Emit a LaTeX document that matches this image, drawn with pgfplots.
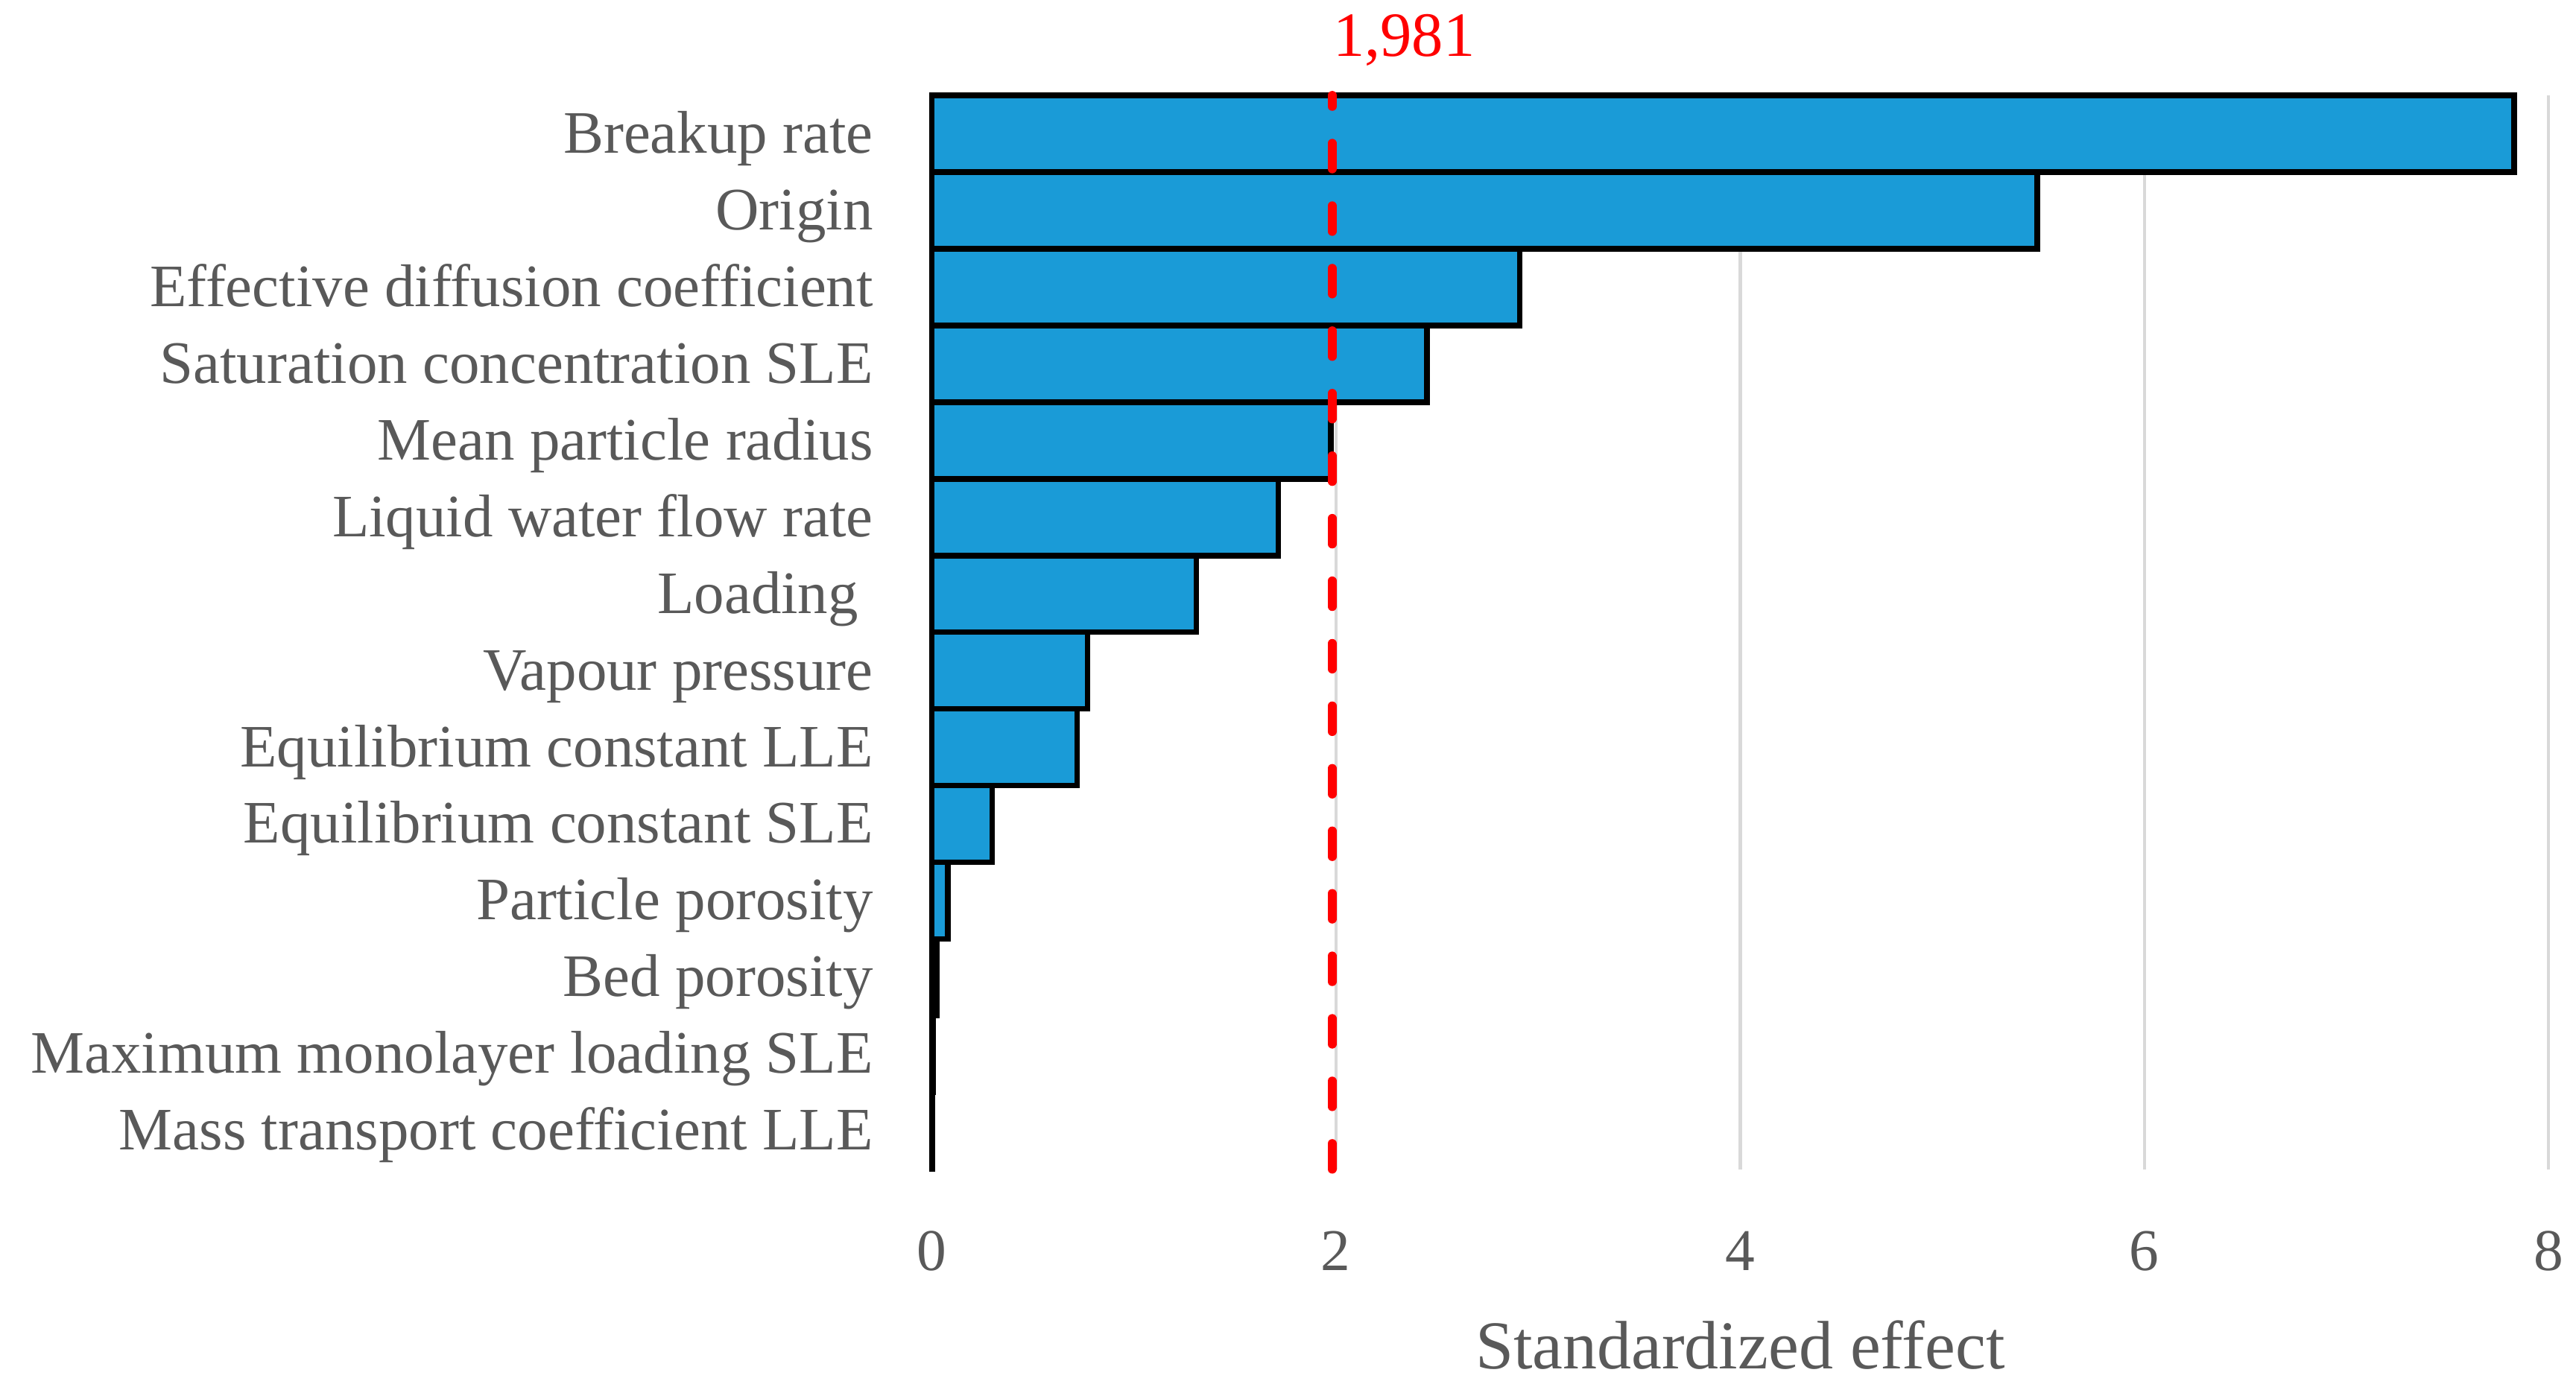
\documentclass[border=0pt]{standalone}
\usepackage{fontspec}
\setmainfont{Liberation Serif}
\usepackage{pgfplots}
\pgfplotsset{compat=1.18}

\definecolor{barblue}{RGB}{26,155,215}
\definecolor{txtgray}{RGB}{89,89,89}
\definecolor{gridgray}{RGB}{217,217,217}

\begin{document}
\begin{tikzpicture}
% fixed page size, same proportions as the reference
\useasboundingbox (-170pt,-40.2pt) rectangle (300pt,213.4pt);
\begin{axis}[
    at={(0,0)}, anchor=south west,
    scale only axis, width=295pt, height=196pt,
    xmin=0, xmax=8, ymin=-0.5, ymax=13.5, y dir=reverse,
    clip=false,
    xtick={0,2,4,6,8},
    ytick={0,1,...,13},
    yticklabels={Breakup rate, Origin, Effective diffusion coefficient,
        Saturation concentration SLE, Mean particle radius,
        Liquid water flow rate, {Loading\kern2.7pt}, Vapour pressure,
        Equilibrium constant LLE, Equilibrium constant SLE,
        Particle porosity, Bed porosity,
        Maximum monolayer loading SLE, Mass transport coefficient LLE},
    xmajorgrids,
    grid style={gridgray, line width=0.6pt},
    axis line style={draw=none},
    tick style={draw=none},
    major tick length=0pt,
    /pgf/number format/assume math mode=true,
    yticklabel style={anchor=base east, inner sep=0pt, xshift=-10.5pt,
        yshift=-3.5pt, font=\fontsize{11}{13}\selectfont, text=txtgray},
    xticklabel style={anchor=base, inner sep=0pt, yshift=-18.5pt,
        font=\fontsize{10.8}{13}\selectfont, text=txtgray},
    xlabel={Standardized effect},
    xlabel style={at={(axis description cs:0.5,0)}, anchor=base,
        inner sep=0pt, yshift=-36.4pt,
        font=\fontsize{12.5}{15}\selectfont, text=txtgray},
]

\addplot[xbar, bar width=14pt, bar shift=0pt, fill=barblue, draw=black,
    line width=1pt] coordinates {
    (7.83,0) (5.47,1) (2.91,2) (2.45,3) (1.975,4) (1.715,5) (1.31,6)
    (0.77,7) (0.72,8) (0.30,9) (0.08,10) (0.025,11) (0.006,12) (0.003,13)
};

% critical value line
\addplot[red, line width=1.6pt, line cap=round,
    dash pattern=on 4.7pt off 6.71pt, mark=none]
    coordinates {(1.981,13.5) (1.981,-0.5)};

\node[anchor=base west, inner sep=0pt, text=red,
    font=\fontsize{11.5}{14}\selectfont, yshift=7.1pt]
    at (axis cs:1.981,-0.5) {1,981};

\end{axis}
\end{tikzpicture}
\end{document}
